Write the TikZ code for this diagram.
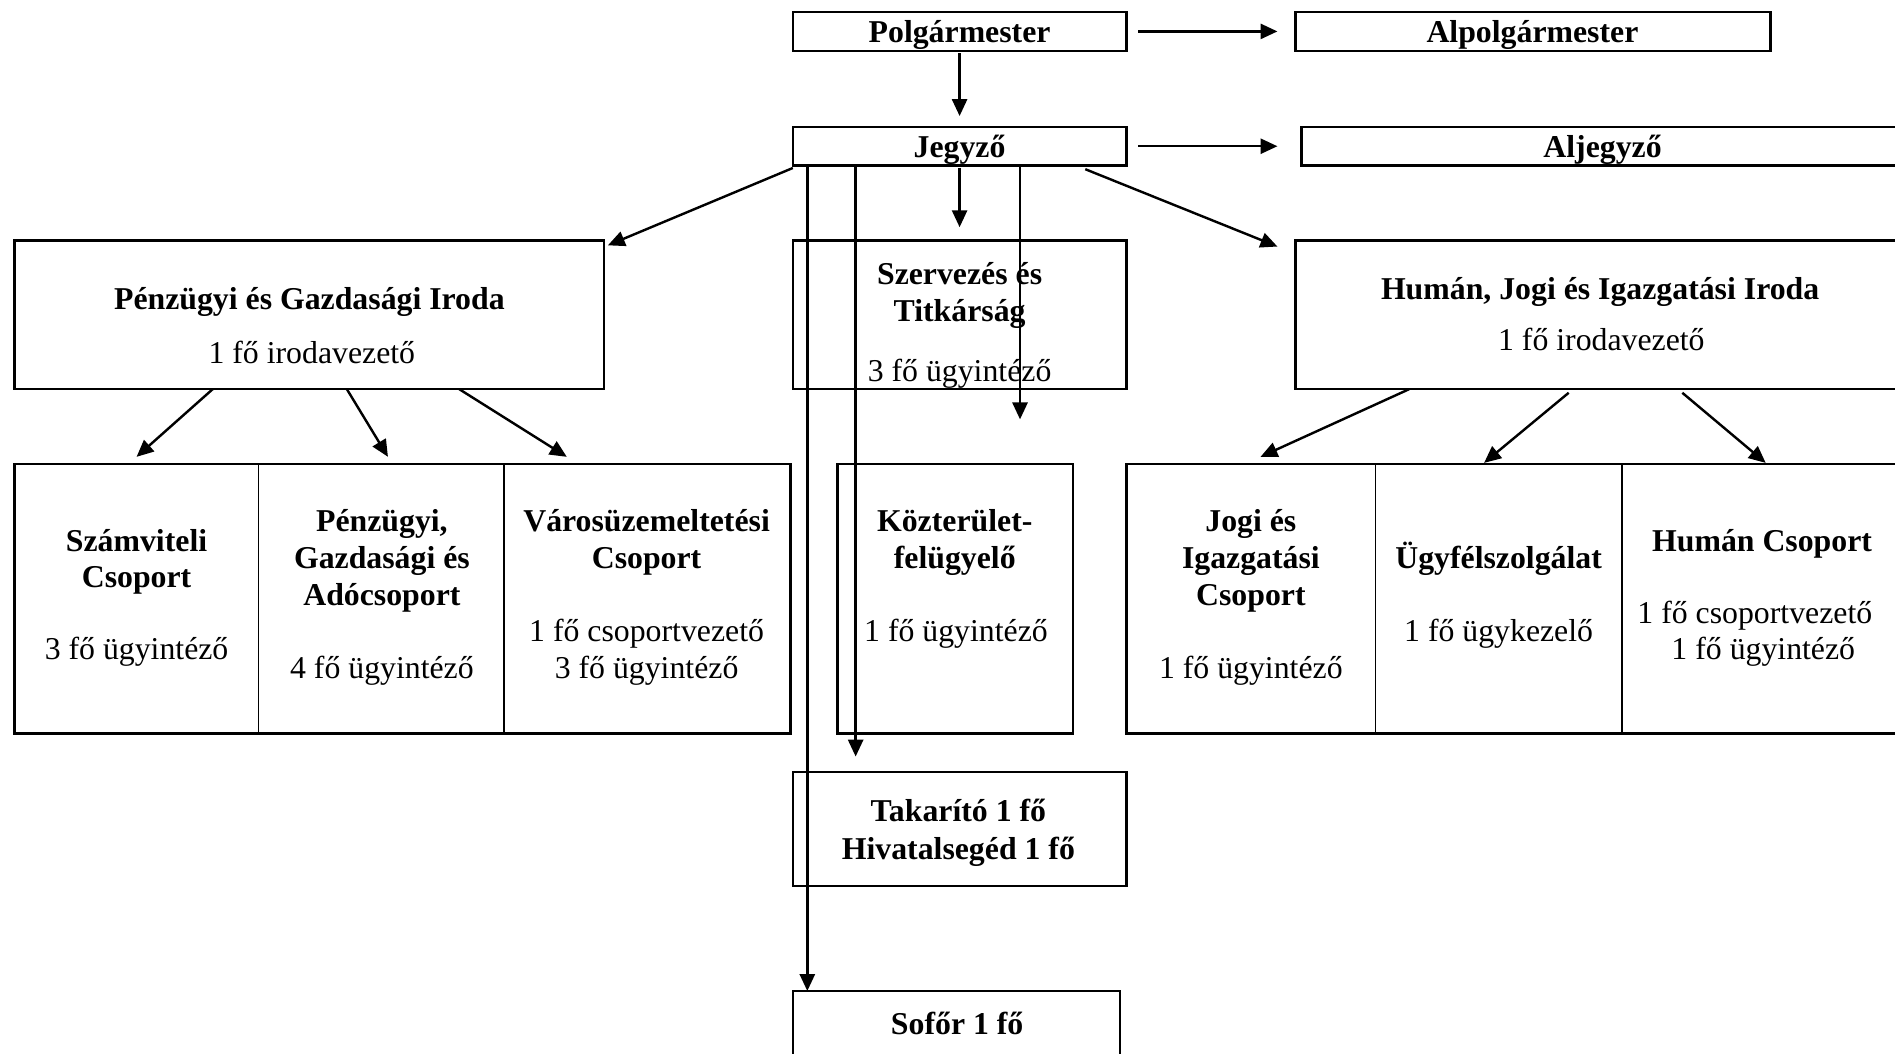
\documentclass[tikz,border=0pt]{standalone}
\usepackage{fontspec}
\setmainfont{Liberation Serif}
\usetikzlibrary{arrows.meta}
\tikzset{
  box/.style 2 args={draw,line width=1.9pt,rectangle,inner sep=0pt,outer sep=0pt,minimum width=#1pt,minimum height=#2pt},
  cell/.style 2 args={draw,line width=1.2pt,rectangle,inner sep=0pt,outer sep=0pt,minimum width=#1pt,minimum height=#2pt},
  bt/.style={font=\fontsize{26.3}{30.5}\selectfont\bfseries,anchor=base,inner sep=0pt},
  rt/.style={font=\fontsize{26.3}{30.5}\selectfont,anchor=base,inner sep=0pt},
  arr/.style={line width=2pt,-{Triangle[length=14pt,width=12.5pt]}},
  frame/.style={line width=1.9pt},
}
\begin{document}
\begin{tikzpicture}[x=1pt,y=-1pt]
\useasboundingbox (0,0) rectangle (1568,872);
\begin{scope}
\clip (0,0) rectangle (1568,872);
% top boxes
\node[box={276}{32}] (pol) at (794,26) {};
\node[box={393}{32}] (alpol) at (1268.5,26) {};
\node[box={276}{32}] (jeg) at (794,121) {};
\node[box={499}{32}] (aljeg) at (1326.5,121) {};
% middle boxes
\node[box={488}{123}] (penz) at (256,260.5) {};
\node[box={276}{123}] (szerv) at (794,260.5) {};
\node[box={504}{123}] (human) at (1324,260.5) {};
% bottom cells
\node[cell={202}{223}] (szamv) at (113,495.5) {};
\node[cell={203}{223}] (pgado) at (315.5,495.5) {};
\node[cell={237}{223}] (varos) at (535.5,495.5) {};
\node[box={195}{223}] (kozt) at (790.5,495.5) {};
\node[cell={206}{223}] (jogi) at (1035,495.5) {};
\node[cell={204}{223}] (ugyf) at (1240,495.5) {};
\node[cell={234}{223}] (humcs) at (1459,495.5) {};
\draw[frame] (szamv.north west) rectangle (varos.south east);
\draw[frame] (jogi.north west) rectangle (humcs.south east);
% lower boxes
\node[box={276}{94}] (tak) at (794,686) {};
\node[box={271}{56}] (sof) at (791.5,848) {};
% texts
\node[bt] (tpol) at (794,35) {Polgármester};
\node[bt] (talpol) at (1268,35) {Alpolgármester};
\node[bt] (tjeg) at (794,130) {Jegyző};
\node[bt] (taljeg) at (1326,130) {Aljegyző};
\node[bt] (tpenz1) at (256,256) {Pénzügyi és Gazdasági Iroda};
\node[rt] (tpenz2) at (258,301) {1 fő irodavezető};
\node[bt] (tszerv1) at (794,235) {Szervezés és};
\node[bt] (tszerv2) at (794,266) {Titkárság};
\node[rt] (tszerv3) at (794,316) {3 fő ügyintéző};
\node[bt] (thum1) at (1324,248) {Humán, Jogi és Igazgatási Iroda};
\node[rt] (thum2) at (1325,290) {1 fő irodavezető};
\node[bt] (ta1) at (113,456) {Számviteli};
\node[bt] (ta2) at (113,486) {Csoport};
\node[rt] (ta3) at (113,546) {3 fő ügyintéző};
\node[bt] (tb1) at (316,440) {Pénzügyi,};
\node[bt] (tb2) at (316,470) {Gazdasági és};
\node[bt] (tb3) at (316,501) {Adócsoport};
\node[rt] (tb4) at (316,561) {4 fő ügyintéző};
\node[bt] (tc1) at (535,440) {Városüzemeltetési};
\node[bt] (tc2) at (535,470) {Csoport};
\node[rt] (tc3) at (535,531) {1 fő csoportvezető};
\node[rt] (tc4) at (535,561) {3 fő ügyintéző};
\node[bt] (td1) at (790,440) {Közterület-};
\node[bt] (td2) at (790,470) {felügyelő};
\node[rt] (td3) at (791,531) {1 fő ügyintéző};
\node[bt] (te1) at (1035,440) {Jogi és};
\node[bt] (te2) at (1035,470) {Igazgatási};
\node[bt] (te3) at (1035,501) {Csoport};
\node[rt] (te4) at (1035,561) {1 fő ügyintéző};
\node[bt] (tf1) at (1240,470) {Ügyfélszolgálat};
\node[rt] (tf2) at (1240,531) {1 fő ügykezelő};
\node[bt] (tg1) at (1458,456) {Humán Csoport};
\node[rt] (tg2) at (1452,516) {1 fő csoportvezető};
\node[rt] (tg3) at (1459,546) {1 fő ügyintéző};
\node[bt] (th1) at (793,680) {Takarító 1 fő};
\node[bt] (th2) at (793,711) {Hivatalsegéd 1 fő};
\node[bt] (ti1) at (792,856) {Sofőr 1 fő};
% connectors
\draw[arr] ([xshift=10pt]pol.east) -- ([xshift=-15pt]alpol.west);
\draw[arr] ([xshift=10pt]jeg.east) -- ([xshift=-20pt]aljeg.west);
\draw[arr] ([yshift=-2pt]pol.south) -- ([yshift=9pt]jeg.north);
\draw[arr] ([yshift=-2pt]jeg.south west) -- ([xshift=3pt,yshift=-4pt]penz.north east);
\draw[arr] ([yshift=-2pt]jeg.south) -- ([yshift=11pt]szerv.north);
\draw[arr] ([xshift=-34pt,yshift=-3pt]jeg.south east) -- ([xshift=-15pt,yshift=-5pt]human.north west);
\draw[arr] ([xshift=12pt]jeg.south west) -- ([xshift=12pt]sof.north west);
\draw[arr] ([xshift=52pt]jeg.south west) -- ([xshift=52pt,yshift=13pt]tak.north west);
\draw[arr] ([xshift=-88pt]jeg.south east) -- ([xshift=53.5pt,yshift=37pt]kozt.north);
\draw[arr] ([xshift=164pt]penz.south west) -- ([yshift=6pt]szamv.north);
\draw[arr] ([xshift=275pt]penz.south west) -- ([xshift=5.5pt,yshift=6pt]pgado.north);
\draw[arr] ([xshift=368pt]penz.south west) -- ([xshift=-66.5pt,yshift=6pt]varos.north);
\draw[arr] ([xshift=94pt]human.south west) -- ([xshift=8pt,yshift=6pt]jogi.north);
\draw[arr] ([xshift=226pt,yshift=-3pt]human.south west) -- ([xshift=-12pt,yshift=1pt]ugyf.north);
\draw[arr] ([xshift=320pt,yshift=-3pt]human.south west) -- ([xshift=2pt,yshift=1pt]humcs.north);
\end{scope}
\end{tikzpicture}
\end{document}
